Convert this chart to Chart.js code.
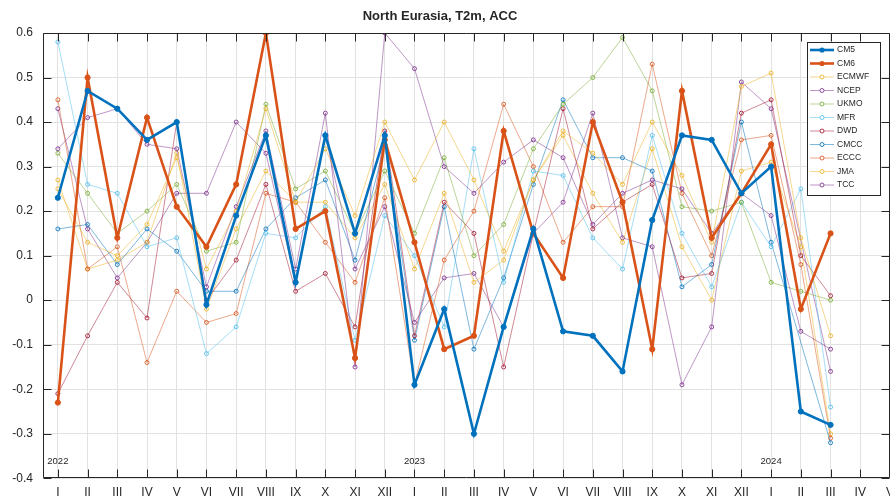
<!DOCTYPE html>
<html><head><meta charset="utf-8">
<script src="https://cdn.jsdelivr.net/npm/chart.js@4.4.0/dist/chart.umd.min.js"></script>
<style>html,body{margin:0;padding:0;background:#fff;overflow:hidden;width:890px;height:497px}</style>
</head><body>
<canvas id="c" width="895" height="497"></canvas>
<script>
// ---- data ----
const months = ['I','II','III','IV','V','VI','VII','VIII','IX','X','XI','XII'];
const xTickLabels = [...months, ...months, 'I','II','III','IV','V'];
const yearLabels = ['2022','2023','2024'];
const yearIndex = [0, 12, 24];
const seriesNames = ['CM5','CM6','ECMWF','NCEP','UKMO','MFR','DWD','CMCC','ECCC','JMA','TCC'];

const CM5   = [0.23,0.47,0.43,0.36,0.40,-0.01,0.19,0.37,0.04,0.37,0.15,0.37,-0.19,-0.02,-0.30,-0.06,0.16,-0.07,-0.08,-0.16,0.18,0.37,0.36,0.24,0.30,-0.25,-0.28];
const CM6   = [-0.23,0.50,0.14,0.41,0.21,0.12,0.26,0.60,0.16,0.20,-0.13,0.36,0.13,-0.11,-0.08,0.38,0.15,0.05,0.40,0.22,-0.11,0.47,0.14,0.24,0.35,-0.02,0.15];
const ECMWF = [0.25,0.13,0.10,0.17,0.32,0.07,0.20,0.43,0.22,0.34,0.19,0.40,0.27,0.40,0.27,0.11,0.27,0.38,0.33,0.26,0.40,0.28,0.13,0.48,0.51,0.14,-0.08];
const NCEP  = [0.34,0.41,0.43,0.35,0.34,0.03,0.21,0.38,0.07,0.42,-0.15,0.60,0.52,0.30,0.24,0.31,0.36,0.32,0.17,0.24,0.27,0.25,0.15,0.24,0.19,-0.07,-0.11];
const UKMO  = [0.33,0.24,0.15,0.20,0.26,0.11,0.13,0.44,0.25,0.29,0.15,0.29,0.15,0.32,0.10,0.17,0.34,0.44,0.50,0.59,0.47,0.21,0.20,0.22,0.04,0.02,0.00];
const MFR   = [0.58,0.26,0.24,0.12,0.14,-0.12,-0.06,0.15,0.14,0.21,-0.09,0.19,0.10,-0.06,0.34,0.04,0.29,0.28,0.14,0.07,0.37,0.15,0.03,0.22,0.12,0.25,-0.24];
const DWD   = [-0.21,-0.08,0.04,-0.04,0.40,0.00,0.09,0.26,0.02,0.06,-0.06,0.38,-0.08,0.22,0.15,-0.15,0.15,0.43,0.16,0.22,0.26,0.05,0.06,0.42,0.45,0.10,0.01];
const CMCC  = [0.16,0.17,0.08,0.16,0.11,0.02,0.02,0.16,0.23,0.27,0.09,0.35,-0.09,0.21,-0.11,0.05,0.26,0.45,0.32,0.32,0.29,0.03,0.08,0.40,0.13,null,-0.32];
const ECCC  = [0.45,0.07,0.12,-0.14,0.02,-0.05,-0.03,0.24,0.22,0.13,0.04,0.23,-0.19,0.09,0.20,0.44,0.30,0.13,0.21,0.21,0.53,0.24,0.10,0.36,0.37,0.08,-0.31];
const JMA   = [0.27,0.07,0.09,0.13,0.33,-0.02,0.16,0.29,0.22,0.22,0.14,0.26,0.07,0.24,0.04,0.09,0.27,0.37,0.24,0.13,0.34,0.12,0.00,0.29,0.31,0.12,-0.30];
const TCC   = [0.43,0.16,0.05,0.13,0.24,0.24,0.40,0.33,0.04,0.37,0.07,0.21,-0.05,0.05,0.06,-0.06,0.15,0.22,0.42,0.14,0.12,-0.19,-0.06,0.49,0.43,null,-0.16];

// ---- styling ----
const FONT = '"Liberation Sans", Arial, Helvetica, sans-serif';
const TXT = '#262626';
const colors = {CM5:'#0072BD',CM6:'#D95319',ECMWF:'#EDB120',NCEP:'#7E2F8E',UKMO:'#77AC30',MFR:'#4DBEEE',DWD:'#A2142F',CMCC:'#0072BD',ECCC:'#D95319',JMA:'#EDB120',TCC:'#7E2F8E'};
const thick = {CM5:true, CM6:true};
const values = {CM5,CM6,ECMWF,NCEP,UKMO,MFR,DWD,CMCC,ECCC,JMA,TCC};
function rgba(hex,a){const n=parseInt(hex.slice(1),16);return `rgba(${n>>16&255},${n>>8&255},${n&255},${a})`;}

const datasets = seriesNames.map(name => {
  const c = colors[name], t = !!thick[name];
  return {
    label: name,
    data: values[name].map((v,i)=>({x:i,y:v})),
    borderColor: t ? c : rgba(c,0.5),
    borderWidth: t ? 2.6 : 1,
    pointRadius: t ? 2.6 : 2,
    pointBorderWidth: 1,
    pointBorderColor: t ? c : rgba(c,0.85),
    pointBackgroundColor: t ? c : 'rgba(255,255,255,0)',
    spanGaps: true,
    tension: 0,
    fill: false
  };
});

const decor = {
  id:'decor',
  afterDatasetsDraw(chart){
    const {ctx, chartArea:a, scales:{x,y}} = chart;
    ctx.save();
    ctx.strokeStyle = TXT; ctx.lineWidth = 1;
    const L = Math.round(a.left)+0.5, R = Math.round(a.right)-0.5, T = Math.round(a.top)+0.5, B = Math.round(a.bottom)-0.5;
    ctx.beginPath();
    ctx.moveTo(L,T); ctx.lineTo(R,T); ctx.lineTo(R,B); ctx.lineTo(L,B); ctx.closePath();
    ctx.stroke();
    const tl = 8;
    ctx.beginPath();
    for (let i=0;i<xTickLabels.length;i++){
      const px = Math.round(x.getPixelForValue(i))+0.5;
      ctx.moveTo(px,B); ctx.lineTo(px,B-tl);
      ctx.moveTo(px,T); ctx.lineTo(px,T+tl);
    }
    for (let k=0;k<=10;k++){
      const py = Math.round(y.getPixelForValue(-0.4+k*0.1))+0.5;
      ctx.moveTo(L,py); ctx.lineTo(L+tl,py);
      ctx.moveTo(R,py); ctx.lineTo(R-tl,py);
    }
    ctx.stroke();
    ctx.fillStyle = TXT; ctx.font = `9.5px ${FONT}`; ctx.textAlign='center'; ctx.textBaseline='middle';
    yearLabels.forEach((t,k)=>ctx.fillText(t, x.getPixelForValue(yearIndex[k]), 461));
    ctx.font = `bold 13px ${FONT}`;
    ctx.fillText('North Eurasia, T2m, ACC', 440, 16);
    ctx.restore();
  },
  afterDraw(chart){
    const {ctx} = chart;
    ctx.save();
    const bx=807.5, by=42.5, bw=73, bh=153;
    ctx.fillStyle='#fff'; ctx.fillRect(bx,by,bw,bh);
    ctx.strokeStyle=TXT; ctx.lineWidth=1; ctx.strokeRect(bx,by,bw,bh);
    ctx.font = `8.5px ${FONT}`; ctx.textBaseline='middle'; ctx.textAlign='left';
    seriesNames.forEach((name,k)=>{
      const yy = 50 + k*13.5, c = colors[name], t=!!thick[name];
      ctx.strokeStyle = t ? c : rgba(c,0.5); ctx.lineWidth = t?2.6:1;
      ctx.beginPath(); ctx.moveTo(810,yy); ctx.lineTo(834,yy); ctx.stroke();
      ctx.beginPath(); ctx.arc(822,yy,t?2.6:2,0,Math.PI*2);
      if (t){ctx.fillStyle=c; ctx.fill();} else {ctx.fillStyle='#fff'; ctx.fill(); ctx.strokeStyle=rgba(c,0.85); ctx.lineWidth=1; ctx.stroke();}
      ctx.fillStyle=TXT; ctx.fillText(name, 837, yy);
    });
    ctx.restore();
  }
};

new Chart(document.getElementById('c'), {
  type:'line',
  data:{datasets},
  options:{
    responsive:false, animation:false, devicePixelRatio:1,
    layout:{padding:{top:33,left:0,right:0,bottom:0}},
    plugins:{legend:{display:false}, title:{display:false}, tooltip:{enabled:false}},
    scales:{
      x:{type:'linear', min:-0.5, max:28,
        afterBuildTicks:s=>{s.ticks = xTickLabels.map((_,i)=>({value:i}));},
        ticks:{autoSkip:false, maxRotation:0, minRotation:0, padding:7, color:TXT, font:{size:12,family:FONT},
          callback:(v)=>xTickLabels[Math.round(v)] ?? ''},
        grid:{color:'#e2e2e2', lineWidth:1, drawTicks:false}, border:{display:false},
        afterFit:s=>{s.height=18.7; s.paddingLeft=0; s.paddingRight=0;}
      },
      y:{type:'linear', min:-0.4, max:0.6,
        ticks:{stepSize:0.1, padding:10, color:TXT, font:{size:12,family:FONT},
          callback:(v)=>String(Math.round(v*10)/10)},
        grid:{color:'#e2e2e2', lineWidth:1, drawTicks:false}, border:{display:false},
        afterFit:s=>{s.width=43; s.paddingTop=0; s.paddingBottom=0;}
      }
    }
  },
  plugins:[decor]
});
</script>
</body></html>
